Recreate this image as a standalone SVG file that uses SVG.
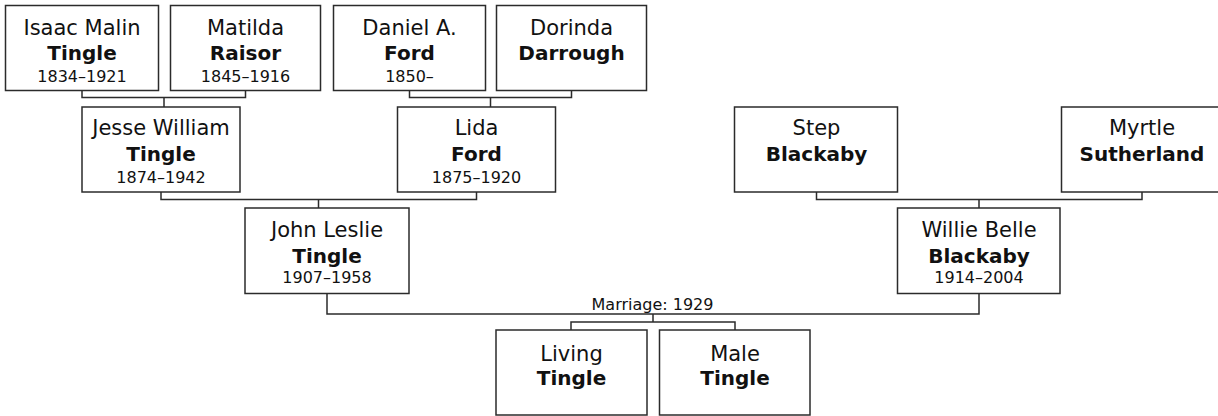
<svg xmlns="http://www.w3.org/2000/svg" width="1218" height="416" viewBox="0 0 1218 416">
<style>
.box{fill:#fff;stroke:#2b2b2b;stroke-width:1.5}
.ln{fill:none;stroke:#2b2b2b;stroke-width:1.5}
text{font-family:"DejaVu Sans",Verdana,sans-serif;fill:#111;text-anchor:middle}
.g{font-size:21px}
.s{font-size:20px;font-weight:bold}
.d{font-size:16px}
.m{font-size:16px}
</style>
<rect width="1218" height="416" fill="#fff"/>
<g id="connectors">
<path class="ln" d="M82,91V97.5H245.5V91M164,97.5V107"/>
<path class="ln" d="M409.5,91V97.5H571.5V91M490.5,97.5V107"/>
<path class="ln" d="M161,192V199.5H476.5V192M318.5,199.5V208"/>
<path class="ln" d="M816.5,192V199.5H1142V192M979,199.5V208"/>
<path class="ln" d="M327,293.5V314H979V293.5M653,314V322M571,330V322H735V330"/>
<text class="m" x="652.5" y="310">Marriage: 1929</text>
</g>
<g id="isaac"><rect class="box" x="5.5" y="5.5" width="153" height="85"/>
<text class="g" x="82" y="35">Isaac Malin</text><text class="s" x="82" y="60">Tingle</text><text class="d" x="82" y="82">1834–1921</text></g>
<g id="matilda"><rect class="box" x="170.5" y="5.5" width="150" height="85"/>
<text class="g" x="245.5" y="35">Matilda</text><text class="s" x="245.5" y="60">Raisor</text><text class="d" x="245.5" y="82">1845–1916</text></g>
<g id="daniel"><rect class="box" x="333.5" y="5.5" width="152" height="85"/>
<text class="g" x="409.5" y="35">Daniel A.</text><text class="s" x="409.5" y="60">Ford</text><text class="d" x="409.5" y="82">1850–</text></g>
<g id="dorinda"><rect class="box" x="496.5" y="5.5" width="150" height="85"/>
<text class="g" x="571.5" y="35">Dorinda</text><text class="s" x="571.5" y="60">Darrough</text></g>
<g id="jesse"><rect class="box" x="82" y="107" width="158" height="85"/>
<text class="g" x="161" y="135">Jesse William</text><text class="s" x="161" y="160.5">Tingle</text><text class="d" x="161" y="182.5">1874–1942</text></g>
<g id="lida"><rect class="box" x="397.5" y="107" width="158" height="85"/>
<text class="g" x="476.5" y="135">Lida</text><text class="s" x="476.5" y="160.5">Ford</text><text class="d" x="476.5" y="182.5">1875–1920</text></g>
<g id="step"><rect class="box" x="734.5" y="107" width="163" height="85"/>
<text class="g" x="816.5" y="135">Step</text><text class="s" x="816.5" y="160.5">Blackaby</text></g>
<g id="myrtle"><rect class="box" x="1061.5" y="107" width="162" height="85"/>
<text class="g" x="1142" y="135">Myrtle</text><text class="s" x="1142" y="160.5">Sutherland</text></g>
<g id="john"><rect class="box" x="245" y="208" width="164" height="85.5"/>
<text class="g" x="327" y="237">John Leslie</text><text class="s" x="327" y="262.5">Tingle</text><text class="d" x="327" y="283">1907–1958</text></g>
<g id="willie"><rect class="box" x="897.5" y="208" width="162.5" height="85.5"/>
<text class="g" x="979" y="237">Willie Belle</text><text class="s" x="979" y="262.5">Blackaby</text><text class="d" x="979" y="283">1914–2004</text></g>
<g id="living"><rect class="box" x="496" y="330" width="151" height="85"/>
<text class="g" x="571.5" y="360.5">Living</text><text class="s" x="571.5" y="385">Tingle</text></g>
<g id="male"><rect class="box" x="659.5" y="330" width="150.5" height="85"/>
<text class="g" x="735" y="360.5">Male</text><text class="s" x="735" y="385">Tingle</text></g>
</svg>
